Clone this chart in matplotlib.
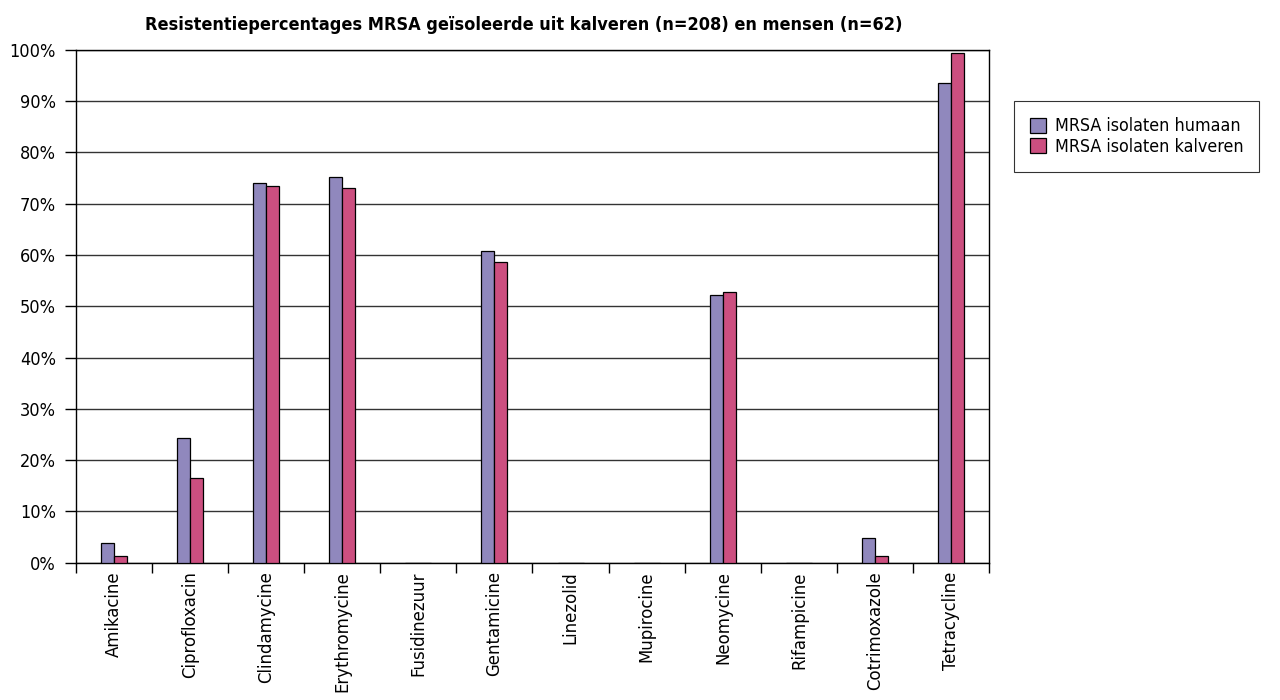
import numpy as np
import matplotlib.pyplot as plt
from matplotlib.ticker import FixedLocator, PercentFormatter

plt.rcParams['font.family'] = ['DejaVu Sans']
plt.rcParams['font.stretch'] = 'condensed'

# Resistance percentages
antibiotics = ['Amikacine', 'Ciprofloxacin', 'Clindamycine', 'Erythromycine',
               'Fusidinezuur', 'Gentamicine', 'Linezolid', 'Mupirocine',
               'Neomycine', 'Rifampicine', 'Cotrimoxazole', 'Tetracycline']
humaan = [3.8, 24.4, 74.1, 75.2, 0, 60.7, 0, 0, 52.2, 0, 4.9, 93.6]
kalveren = [1.4, 16.6, 73.5, 73.0, 0, 58.7, 0, 0, 52.7, 0, 1.4, 99.3]
labels = ['MRSA isolaten humaan', 'MRSA isolaten kalveren']
colors = ['#9088bd', '#cc4f80']

fig = plt.figure(figsize=(12.8, 7), dpi=100)
ax = fig.add_axes([0.059, 0.196, 0.714, 0.733])

x = np.arange(len(antibiotics))
w = 0.17
ax.bar(x - w / 2, humaan, w, color=colors[0], edgecolor='black', linewidth=0.9,
       label=labels[0], zorder=3)
ax.bar(x + w / 2, kalveren, w, color=colors[1], edgecolor='black', linewidth=0.9,
       label=labels[1], zorder=3)

ax.set_xlim(-0.5, len(antibiotics) - 0.5)
ax.set_ylim(0, 100)
ax.set_yticks(np.arange(0, 101, 10))
ax.yaxis.set_major_formatter(PercentFormatter(decimals=0))
ax.grid(axis='y', color='#333333', linewidth=1, zorder=0)

ax.set_xticks(x)
ax.set_xticklabels(antibiotics, rotation=90, fontsize=13.2)
ax.tick_params(axis='x', which='major', length=0, pad=6)
ax.xaxis.set_minor_locator(FixedLocator(np.arange(-0.5, len(antibiotics), 1)))
ax.tick_params(axis='x', which='minor', length=7.5, width=1, direction='out')
ax.tick_params(axis='y', length=8, width=1, labelsize=13, pad=6)

for s in ax.spines.values():
    s.set_linewidth(1)
    s.set_color('black')

ax.set_title('Resistentiepercentages MRSA geïsoleerde uit kalveren (n=208) en mensen (n=62)',
             fontsize=13, fontweight='bold', x=0.49, pad=14)

leg = fig.legend(loc='upper left', bbox_to_anchor=(0.785, 0.868), fontsize=12.8,
                 frameon=True, fancybox=False, edgecolor='black',
                 handlelength=0.9, handleheight=0.9, handletextpad=0.5,
                 labelspacing=0.15, borderpad=0.9)
leg.get_frame().set_linewidth(0.8)

fig.savefig('out.png', dpi=100)
